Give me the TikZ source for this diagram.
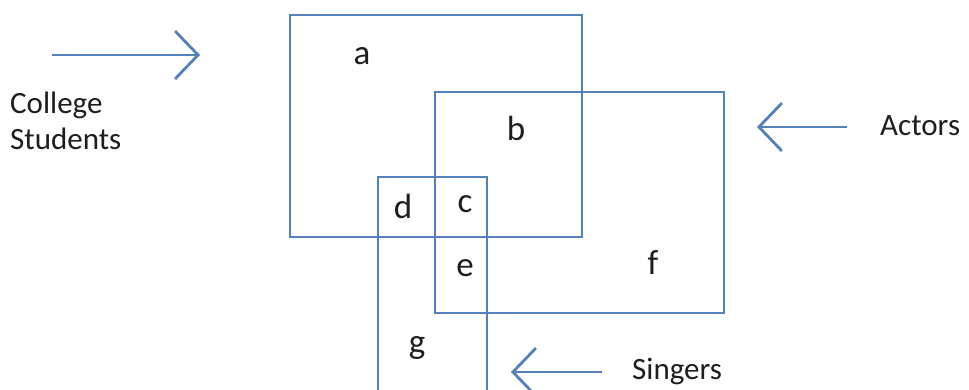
\documentclass[tikz,border=0pt]{standalone}
\usepackage{fontspec}
\setmainfont{Carlito}
\usetikzlibrary{arrows.meta}
\definecolor{setblue}{RGB}{84,130,184}
\definecolor{txt}{RGB}{30,30,30}
\tikzset{
  setbox/.style={draw=setblue, line width=2.8pt},
  pointer/.style={draw=setblue, line width=2.8pt, -{Straight Barb[length=23pt,width=48pt]}},
  lbl/.style={text=txt, font=\fontsize{31}{37}\selectfont, inner sep=0pt},
  region/.style={text=txt, font=\fontsize{35}{40}\selectfont, inner sep=0pt},
}
\begin{document}
\begin{tikzpicture}[x=1pt,y=-1pt]
\useasboundingbox (0,0) rectangle (969,390);
\clip (0,0) rectangle (969,390);
\fill[white] (0,0) rectangle (969,390);
% sets
\draw[setbox] (290,15) rectangle (582,237);
\draw[setbox] (435,92) rectangle (724,313);
\draw[setbox] (378,177) rectangle (487,400);
% region labels
\node[region] (ra) at (362,56) {a};
\node[region] (rb) at (516,128) {b};
\node[region] (rc) at (465,204) {c};
\node[region] (rd) at (403,206) {d};
\node[region] (re) at (465,268) {e};
\node[region] (rf) at (653,263) {f};
\node[region] (rg) at (417,348) {g};
% set names
\node[lbl, align=left, anchor=north west] (cs) at (10,92) {College\\[-1pt]Students};
\node[lbl, anchor=west] (ac) at (880,126) {Actors};
\node[lbl, anchor=west] (si) at (632,371) {Singers};
% pointers
\coordinate (cs1) at (52,55);
\coordinate (cs2) at (200,55);
\coordinate (ac1) at (847,127);
\coordinate (ac2) at (757,127);
\coordinate (si1) at (602,372);
\coordinate (si2) at (511,372);
\draw[pointer] (cs1) -- (cs2);
\draw[pointer] (ac1) -- (ac2);
\draw[pointer] (si1) -- (si2);
\end{tikzpicture}
\end{document}
